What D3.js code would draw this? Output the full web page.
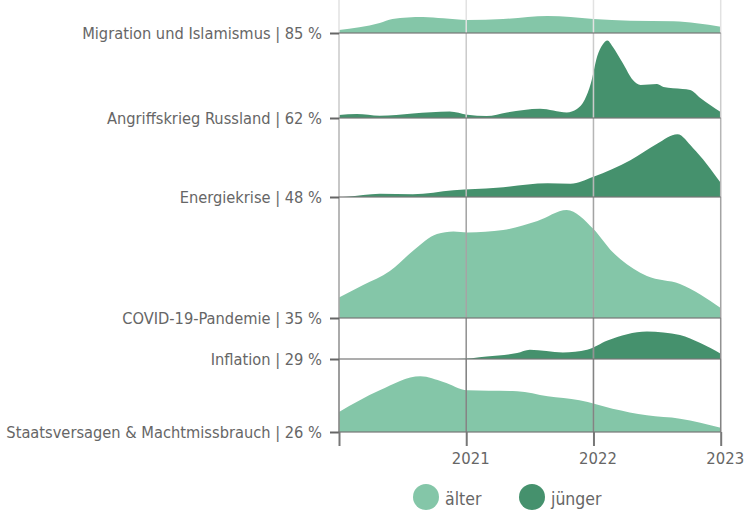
<!DOCTYPE html>
<html>
<head>
<meta charset="utf-8">
<script src="https://cdn.jsdelivr.net/npm/d3@7"></script>
<style>
  body { margin: 0; background: #fff; }
  svg text { font-family: "DejaVu Sans Condensed", sans-serif; fill: #666; }
</style>
</head>
<body>
<svg id="chart"></svg>
<script>
// topics (top to bottom), share of mentions and which age group dominates
const topics = ['Migration und Islamismus', 'Angriffskrieg Russland', 'Energiekrise',
                'COVID-19-Pandemie', 'Inflation', 'Staatsversagen & Machtmissbrauch'];
const shares = [85, 62, 48, 35, 29, 26];
const groups = ['älter', 'jünger', 'jünger', 'älter', 'jünger', 'älter'];
const legendLabels = ['älter', 'jünger'];
const yearTicks = [2020, 2021, 2022, 2023];

// density over time, [year, value]
const migration = [[2020.00,.03],[2020.32,.10],[2020.42,.14],[2020.66,.16],[2020.82,.147],[2021.01,.13],
  [2021.29,.14],[2021.64,.17],[2021.82,.16],[2022.00,.14],[2022.29,.123],[2022.63,.117],[2022.81,.097],[2023.00,.063]];
const angriffskrieg = [[2020.00,.03],[2020.14,.04],[2020.32,.023],[2020.58,.046],[2020.87,.066],[2021.01,.033],
  [2021.16,.02],[2021.32,.056],[2021.58,.093],[2021.79,.056],[2021.87,.09],[2021.93,.18],[2021.98,.35],[2022.03,.62],
  [2022.07,.73],[2022.11,.776],[2022.15,.716],[2022.23,.55],[2022.31,.38],[2022.37,.33],[2022.50,.34],[2022.55,.31],
  [2022.70,.29],[2022.76,.28],[2022.84,.20],[2023.00,.06]];
const energiekrise = [[2020.00,0],[2020.06,.003],[2020.32,.033],[2020.58,.027],[2020.90,.067],[2021.24,.093],
  [2021.64,.137],[2021.82,.133],[2022.00,.203],[2022.29,.367],[2022.50,.533],[2022.66,.627],[2022.78,.493],[2023.00,.143]];
const covid = [[2020.00,.206],[2020.19,.33],[2020.40,.47],[2020.58,.67],[2020.77,.84],[2020.90,.866],[2021.01,.856],
  [2021.29,.88],[2021.56,.97],[2021.79,1.08],[2022.00,.89],[2022.15,.66],[2022.21,.59],[2022.42,.42],[2022.68,.34],[2023.00,.10]];
const inflation = [[2020.00,0],[2020.93,0],[2021.16,.026],[2021.40,.06],[2021.50,.093],[2021.76,.066],
  [2021.95,.093],[2022.11,.186],[2022.42,.276],[2022.68,.24],[2022.84,.16],[2023.00,.053]];
const staatsversagen = [[2020.00,.20],[2020.32,.417],[2020.64,.557],[2020.82,.50],[2021.01,.417],[2021.40,.407],
  [2021.64,.357],[2021.89,.317],[2022.15,.233],[2022.42,.167],[2022.68,.133],[2023.00,.043]];
const series = [migration, angriffskrieg, energiekrise, covid, inflation, staatsversagen];

// layout: baseline of each ridge in px
const rowBaseline = [33, 118, 197, 318, 359, 432];

const width = 746, height = 510;
const colors = d3.scaleOrdinal().domain(legendLabels).range(['#84c6a8', '#45916d']);

const svg = d3.select('#chart').attr('width', width).attr('height', height);

const x = d3.scaleLinear().domain([2020, 2023]).range([339, 720.7]);
const h = d3.scaleLinear().domain([0, 1]).range([0, 100]);
const y = d3.scaleOrdinal().domain(topics).range(rowBaseline);

const rows = topics.map((t, i) => ({ topic: t, share: shares[i], group: groups[i], values: series[i] }));

// ridges
svg.append('g').selectAll('path')
    .data(rows)
  .join('path')
    .attr('fill', d => colors(d.group))
    .attr('d', d => d3.area()
        .curve(d3.curveMonotoneX)
        .x(p => x(p[0]))
        .y0(y(d.topic))
        .y1(p => y(d.topic) - h(p[1]))(d.values));

// vertical grid, darker further down as the rows stack
const grid = svg.append('g');
grid.selectAll('line.base')
    .data(yearTicks)
  .join('line')
    .attr('class', 'base')
    .attr('x1', d => x(d)).attr('x2', d => x(d))
    .attr('y1', 0).attr('y2', 432)
    .attr('stroke', '#e2e2e2').attr('stroke-width', 1.5);
rows.slice(0, -1).forEach(r => {
  grid.append('g').selectAll('line')
      .data(yearTicks)
    .join('line')
      .attr('x1', d => x(d)).attr('x2', d => x(d))
      .attr('y1', y(r.topic)).attr('y2', 432)
      .attr('stroke', '#000').attr('stroke-opacity', 0.1).attr('stroke-width', 1.5);
});

// baselines
svg.append('g').selectAll('line')
    .data(rows)
  .join('line')
    .attr('x1', 339).attr('x2', x(2023))
    .attr('y1', d => y(d.topic)).attr('y2', d => y(d.topic))
    .attr('stroke', '#777').attr('stroke-opacity', 0.6).attr('stroke-width', 2);

// left axis with labels
const yAxis = d3.axisLeft(y)
    .tickSize(9)
    .tickPadding(8)
    .tickFormat(t => `${t} | ${shares[topics.indexOf(t)]} %`);
const yAxisG = svg.append('g')
    .attr('transform', 'translate(339,0)')
    .call(yAxis);
yAxisG.select('.domain').remove();
yAxisG.selectAll('line').attr('stroke', '#666').attr('stroke-width', 2);
yAxisG.selectAll('text').attr('font-size', 16.3).attr('fill', '#666').attr('dy', '0.34em');

// bottom axis
const xAxis = d3.axisBottom(x)
    .tickValues(yearTicks)
    .tickSize(14)
    .tickPadding(6)
    .tickFormat(d => d === 2020 ? '' : d);
const xAxisG = svg.append('g')
    .attr('transform', 'translate(0,432)')
    .call(xAxis);
xAxisG.select('.domain').remove();
xAxisG.selectAll('line').attr('stroke', '#777').attr('stroke-width', 2);
xAxisG.selectAll('text').attr('font-size', 16.5).attr('fill', '#666').attr('dx', 4);

// legend
const legend = svg.append('g').attr('transform', 'translate(426,497)');
const items = legend.selectAll('g')
    .data(legendLabels)
  .join('g')
    .attr('transform', (d, i) => `translate(${i * 106},0)`);
items.append('circle').attr('r', 13).attr('fill', d => colors(d));
items.append('text')
    .attr('x', 19).attr('y', 8)
    .attr('font-size', 17.5)
    .text(d => d);
</script>
</body>
</html>
